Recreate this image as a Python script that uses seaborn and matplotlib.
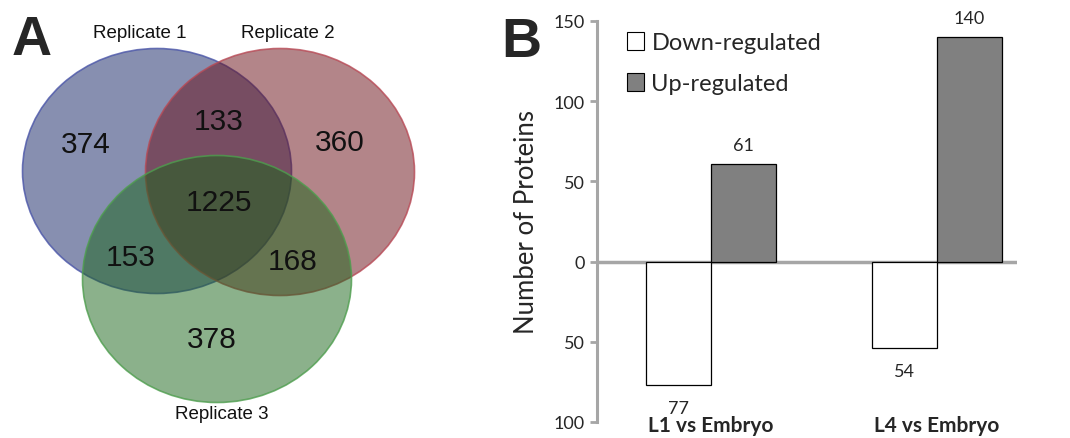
import pandas as pd
import matplotlib.pyplot as plt
import seaborn as sns
from matplotlib.patches import Ellipse, Patch

# data
venn_sets = ['Replicate 1', 'Replicate 2', 'Replicate 3']
venn_regions = ['1', '12', '2', '123', '13', '23', '3']
venn_counts = [374, 133, 360, 1225, 153, 168, 378]

comparisons = ['L1 vs Embryo', 'L4 vs Embryo']
down_reg = [77, 54]
up_reg = [61, 140]

sns.set_style('white')
plt.rcParams['font.family'] = ['Liberation Sans', 'DejaVu Sans']

fig = plt.figure(figsize=(10.7, 4.39), dpi=100)

# ---- A: Venn diagram (pixel coordinates of the left half)
ax_a = fig.add_axes([0, 0, 430 / 1070, 1])
ax_a.set_xlim(0, 430)
ax_a.set_ylim(439, 0)
ax_a.axis('off')

circles = {
    '1': dict(xy=(157, 172), w=269, h=245, fc='#112162', ec='#4a55a8'),
    '2': dict(xy=(280, 173), w=269, h=247, fc='#690d15', ec='#b84a56'),
    '3': dict(xy=(217, 280), w=269, h=247, fc='#196419', ec='#4e9e4e'),
}
for c in circles.values():
    ax_a.add_patch(Ellipse(c['xy'], c['w'], c['h'], facecolor=c['fc'], alpha=0.5, lw=0))
    ax_a.add_patch(Ellipse(c['xy'], c['w'], c['h'], facecolor='none', edgecolor=c['ec'], lw=1.2, alpha=0.8))

region_pos = {'1': (86, 145), '12': (219, 122), '2': (340, 143), '123': (219, 203),
              '13': (131, 258), '23': (293, 262), '3': (212, 340)}
for reg, n in zip(venn_regions, venn_counts):
    ax_a.text(*region_pos[reg], str(n), fontsize=21.5, ha='center', va='center', color='#111111')

set_pos = [(140, 34), (288, 34), (222, 415)]
for name, pos in zip(venn_sets, set_pos):
    ax_a.text(*pos, name, fontsize=13.5, ha='center', va='center', color='#111111')

fig.text(32 / 1070, 1 - 41 / 439, 'A', fontsize=40, fontweight='bold', ha='center', va='center')

# ---- B: bar chart
df = pd.DataFrame({
    'Comparison': comparisons * 2,
    'Regulation': ['Down-regulated'] * 2 + ['Up-regulated'] * 2,
    'Count': [-v for v in down_reg] + up_reg,
})

ax_b = fig.add_axes([597 / 1070, 16 / 439, 420 / 1070, 401 / 439])
sns.barplot(data=df, x='Comparison', y='Count', hue='Regulation',
            hue_order=['Down-regulated', 'Up-regulated'],
            palette=['white', '#808080'], edgecolor='black', linewidth=0.9,
            width=0.575, ax=ax_b, legend=False)

ax_b.set_xlim(-0.504, 1.354)
ax_b.set_ylim(-100, 150)
ax_b.axhline(0, color='#a6a6a6', lw=2.5, zorder=0.5)

gray = '#a6a6a6'
for s in ['top', 'right', 'bottom']:
    ax_b.spines[s].set_visible(False)
ax_b.spines['left'].set_color(gray)
ax_b.spines['left'].set_linewidth(2.2)
ax_b.set_yticks([-100, -50, 0, 50, 100, 150])
ax_b.set_yticklabels(['100', '50', '0', '50', '100', '150'], fontfamily='Lato', fontsize=13)
ax_b.tick_params(axis='y', direction='out', length=5, width=2, color=gray, pad=4, left=True)
ax_b.set_xticks([0, 1])
ax_b.set_xticklabels(comparisons, fontfamily='Lato', fontweight='bold', fontsize=15)
ax_b.tick_params(axis='x', length=0, pad=-5)
ax_b.set_xlabel('')
ax_b.set_ylabel('Number of Proteins', fontfamily='Lato', fontsize=18.5, labelpad=10)

ax_b.bar_label(ax_b.containers[0], labels=[str(v) for v in down_reg], padding=11,
               fontfamily='Lato', fontsize=13)
ax_b.bar_label(ax_b.containers[1], labels=[str(v) for v in up_reg], padding=8,
               fontfamily='Lato', fontsize=13)

handles = [Patch(facecolor='white', edgecolor='black', lw=0.8),
           Patch(facecolor='#808080', edgecolor='black', lw=0.8)]
ax_b.legend(handles, ['Down-regulated', 'Up-regulated'], loc='upper left',
            bbox_to_anchor=(0.02, 1.025), frameon=False, prop={'family': 'Lato', 'size': 17},
            handlelength=0.75, handleheight=0.75, handletextpad=0.3, labelspacing=0.85)

fig.text(521 / 1070, 1 - 43 / 439, 'B', fontsize=40, fontweight='bold', ha='center', va='center')

fig.savefig('out.png', dpi=100)
